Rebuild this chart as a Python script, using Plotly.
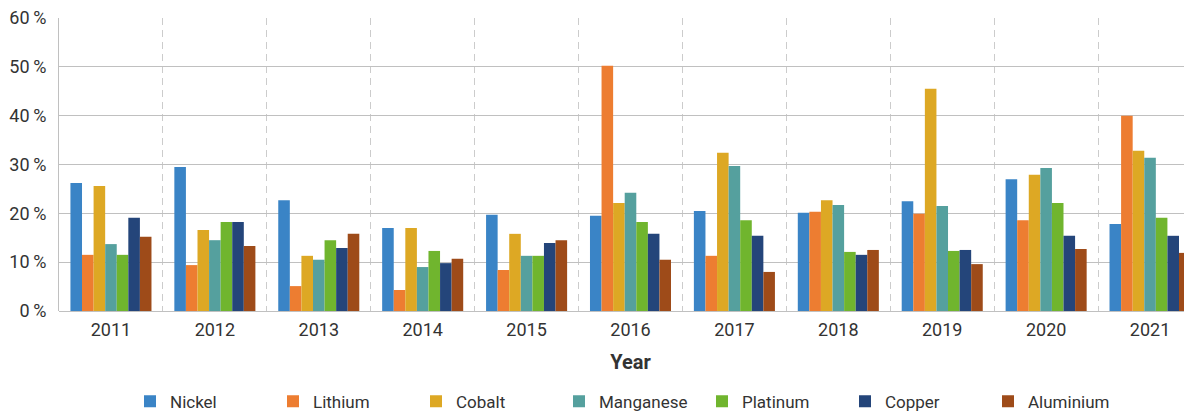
import plotly.graph_objects as go

years = ["2011", "2012", "2013", "2014", "2015", "2016", "2017", "2018", "2019", "2020", "2021"]

nickel = [26.2, 29.5, 22.7, 17.0, 19.7, 19.5, 20.5, 20.1, 22.5, 27.0, 17.8]
lithium = [11.5, 9.4, 5.1, 4.3, 8.4, 50.2, 11.3, 20.3, 19.9, 18.6, 40.0]
cobalt = [25.6, 16.6, 11.3, 17.0, 15.8, 22.1, 32.4, 22.7, 45.5, 27.9, 32.8]
manganese = [13.7, 14.5, 10.5, 9.0, 11.3, 24.2, 29.7, 21.7, 21.5, 29.3, 31.4]
platinum = [11.5, 18.2, 14.5, 12.3, 11.3, 18.2, 18.6, 12.1, 12.3, 22.1, 19.1]
copper = [19.1, 18.2, 12.9, 9.8, 13.9, 15.8, 15.4, 11.5, 12.5, 15.4, 15.4]
aluminium = [15.2, 13.3, 15.8, 10.7, 14.5, 10.5, 8.0, 12.5, 9.6, 12.7, 11.9]

series_names = ["Nickel", "Lithium", "Cobalt", "Manganese", "Platinum", "Copper", "Aluminium"]
series_values = [nickel, lithium, cobalt, manganese, platinum, copper, aluminium]
series_colors = ["#3a84c6", "#ed7d31", "#dda824", "#55a09e", "#70b52e", "#24457a", "#9e4b19"]

y_ticks = [0, 10, 20, 30, 40, 50, 60]

FONT = "Roboto, Inter, sans-serif"

fig = go.Figure()
for name, vals, col in zip(series_names, series_values, series_colors):
    fig.add_trace(go.Bar(x=years, y=vals, name=name, marker=dict(color=col, line=dict(width=0))))

fig.update_layout(
    width=1194,
    height=411,
    barmode="group",
    bargap=0.22,
    bargroupgap=0,
    plot_bgcolor="white",
    paper_bgcolor="white",
    margin=dict(l=51, r=0, t=10, b=108, autoexpand=False),
    font=dict(family=FONT, size=17, color="#333333"),
    showlegend=True,
    legend=dict(
        orientation="h",
        xref="paper",
        x=0.5,
        xanchor="center",
        yref="container",
        y=0.042,
        yanchor="middle",
        font=dict(size=17, color="#333333"),
        traceorder="normal",
        entrywidth=98,
        entrywidthmode="pixels",
    ),
    hovermode=False,
)

fig.update_xaxes(
    type="category",
    automargin=False,
    tickson="boundaries",
    showgrid=True,
    gridcolor="#cccccc",
    griddash="7px,5px",
    gridwidth=1,
    showline=False,
    ticks="",
    ticklabelstandoff=6,
    ticklabeloverflow="allow",
    tickfont=dict(size=18, color="#333333"),
    title=dict(text="<b>Year</b>", font=dict(size=20, color="#333333"), standoff=15),
    zeroline=False,
)

fig.update_yaxes(
    range=[0, 60],
    automargin=False,
    tickvals=y_ticks,
    ticktext=[f"{v}\u2009%" for v in y_ticks],
    ticklabeloverflow="allow",
    showgrid=True,
    gridcolor="#c0c0c0",
    gridwidth=1,
    showline=True,
    linecolor="#c0c0c0",
    linewidth=1,
    ticks="",
    ticklabelstandoff=8,
    tickfont=dict(size=18, color="#333333"),
    zeroline=True,
    zerolinecolor="#c0c0c0",
    zerolinewidth=1,
)

fig.write_html("out.html")
